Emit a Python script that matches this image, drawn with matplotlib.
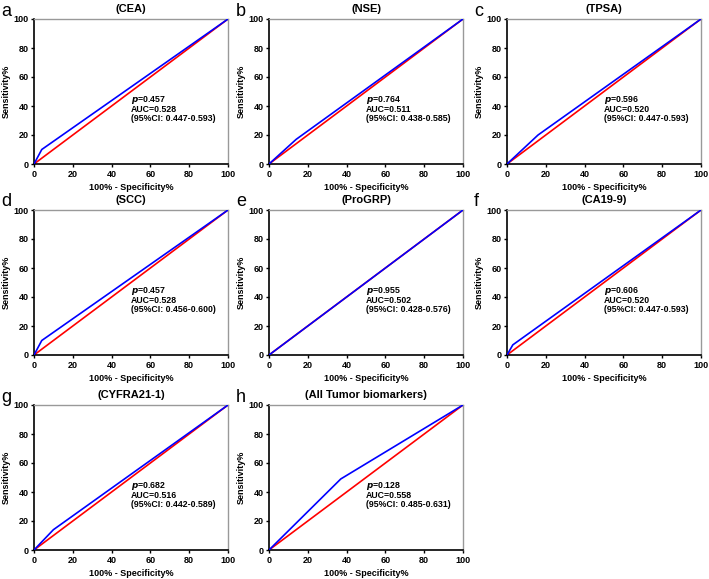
import matplotlib
matplotlib.use("Agg")
import matplotlib.pyplot as plt

plt.rcParams['font.family'] = ['Liberation Sans', 'DejaVu Sans']
plt.rcParams['font.weight'] = 'bold'

# ROC data per panel (x = 100% - specificity, y = sensitivity)
letters = ['a', 'b', 'c', 'd', 'e', 'f', 'g', 'h']
titles = ['(CEA)', '(NSE)', '(TPSA)', '(SCC)', '(ProGRP)', '(CA19-9)',
          '(CYFRA21-1)', '(All Tumor biomarkers)']
roc_x = [[0, 4, 100], [0, 14, 100], [0, 16, 100], [0, 4, 100],
         [0, 100], [0, 3, 100], [0, 10, 100], [0, 37, 100]]
roc_y = [[0, 10, 100], [0, 17, 100], [0, 20, 100], [0, 10, 100],
         [0, 100], [0, 7, 100], [0, 14, 100], [0, 49, 100]]
p_vals = ['0.457', '0.764', '0.596', '0.457', '0.955', '0.606', '0.682', '0.128']
aucs = ['0.528', '0.511', '0.520', '0.528', '0.502', '0.520', '0.516', '0.558']
cis = ['0.447-0.593', '0.438-0.585', '0.447-0.593', '0.456-0.600',
       '0.428-0.576', '0.447-0.593', '0.442-0.589', '0.485-0.631']
ref_line = [0, 100]
ticks = [0, 20, 40, 60, 80, 100]

W, H = 709, 579
fig = plt.figure(figsize=(W / 100, H / 100), dpi=100)

col_left = [34, 269, 507]
row_top = [19, 210, 405]
aw, ah = 194, 145

for i in range(8):
    r, c = divmod(i, 3)
    ax = fig.add_axes([col_left[c] / W, 1 - (row_top[r] + ah) / H, aw / W, ah / H])
    ax.plot(ref_line, ref_line, color='red', lw=1.2, zorder=2)
    ax.plot(roc_x[i], roc_y[i], color='blue', lw=1.2, zorder=3)
    ax.set_xlim(0, 100)
    ax.set_ylim(0, 100)
    ax.set_xticks(ticks)
    ax.set_yticks(ticks)
    ax.tick_params(labelsize=6.5, length=2.5, width=1, pad=1.5)
    for lab in ax.get_xticklabels() + ax.get_yticklabels():
        lab.set_fontweight('bold')
    for s in ['left', 'bottom']:
        ax.spines[s].set_linewidth(1.2)
    for s in ['top', 'right']:
        ax.spines[s].set_color('#999999')
        ax.spines[s].set_linewidth(1.0)
    ax.set_xlabel('100% - Specificity%', fontsize=6.5, fontweight='bold', labelpad=3)
    ax.set_ylabel('Sensitivity%', fontsize=6.5, fontweight='bold', labelpad=1.5)
    ax.set_title(titles[i], fontsize=8, fontweight='bold', pad=5)
    note = (r'$\mathbfit{p}$=' + p_vals[i] + '\nAUC=' + aucs[i]
            + '\n(95%CI: ' + cis[i] + ')')
    ax.text(50, 38.3, note, fontsize=6.3, fontweight='bold', va='center',
            ha='left', linespacing=0.92)
    fig.text((col_left[c] - 33) / W, 1 - (row_top[r] - 8) / H, letters[i],
             fontsize=13, fontweight='normal', va='center', ha='left')

fig.savefig('out.png', dpi=100)
